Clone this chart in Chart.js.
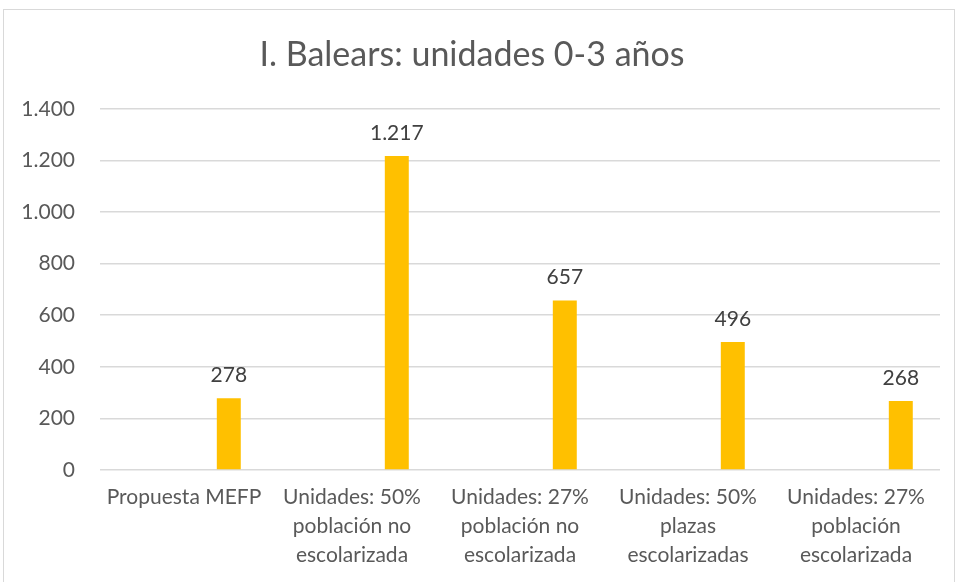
<!DOCTYPE html>
<html>
<head>
<meta charset="utf-8">
<script src="https://cdn.jsdelivr.net/npm/chart.js@4.4.1/dist/chart.umd.min.js"></script>
<style>
  body { margin: 0; background: #fff; overflow: hidden; }
  #wrap { position: absolute; left: 3px; top: 9px; width: 950px; height: 590px; border: 1px solid #d9d9d9; }
</style>
</head>
<body>
<div id="wrap"><canvas id="chart"></canvas></div>
<script>
const categories = [
  ['Propuesta MEFP'],
  ['Unidades: 50%', 'población no', 'escolarizada'],
  ['Unidades: 27%', 'población no', 'escolarizada'],
  ['Unidades: 50%', 'plazas', 'escolarizadas'],
  ['Unidades: 27%', 'población', 'escolarizada']
];
const unidades = [278, 1217, 657, 496, 268];
// Excel chart had two empty series before this one, which pushes the bar right
const emptySeries = [null, null, null, null, null];
const yTicks = [0, 200, 400, 600, 800, 1000, 1200, 1400];

function fmt(v) {
  return String(v).replace(/\B(?=(\d{3})+(?!\d))/g, '.');
}

const valueLabels = {
  id: 'valueLabels',
  afterDatasetsDraw(chart) {
    const ctx = chart.ctx;
    const meta = chart.getDatasetMeta(2);
    ctx.save();
    ctx.font = '21px Lato';
    ctx.fillStyle = '#404040';
    ctx.textAlign = 'center';
    ctx.textBaseline = 'middle';
    meta.data.forEach((bar, i) => {
      ctx.fillText(fmt(unidades[i]), bar.x, bar.y - 23);
    });
    ctx.restore();
  }
};

new Chart(document.getElementById('chart'), {
  type: 'bar',
  data: {
    labels: categories,
    datasets: [
      { label: 'a', data: emptySeries },
      { label: 'b', data: emptySeries },
      { label: 'Unidades', data: unidades, backgroundColor: '#FFC000' }
    ]
  },
  options: {
    responsive: true,
    maintainAspectRatio: false,
    animation: false,
    datasets: { bar: { categoryPercentage: 0.8, barPercentage: 0.535 } },
    layout: { padding: { left: 0, right: 14, top: 0, bottom: 17 } },
    plugins: {
      legend: { display: false },
      tooltip: { enabled: false },
      title: {
        display: true,
        text: 'I. Balears: unidades 0-3 años',
        color: '#595959',
        font: { family: 'Lato', size: 34, weight: 'normal' },
        padding: { top: 25, bottom: 33 }
      }
    },
    scales: {
      x: {
        grid: { display: false, drawTicks: false },
        border: { display: false },
        ticks: {
          color: '#595959',
          font: { family: 'Lato', size: 21, lineHeight: 1.38 },
          padding: 13,
          maxRotation: 0,
          autoSkip: false
        }
      },
      y: {
        min: 0,
        max: 1400,
        afterBuildTicks(axis) {
          axis.ticks = yTicks.map(v => ({ value: v }));
        },
        afterFit(axis) {
          axis.width = 96;
        },
        grid: { color: '#d9d9d9', lineWidth: 1.5, drawTicks: false },
        border: { display: false },
        ticks: {
          color: '#595959',
          font: { family: 'Lato', size: 21 },
          padding: 25,
          callback: v => fmt(v)
        }
      }
    }
  },
  plugins: [valueLabels]
});
</script>
</body>
</html>
